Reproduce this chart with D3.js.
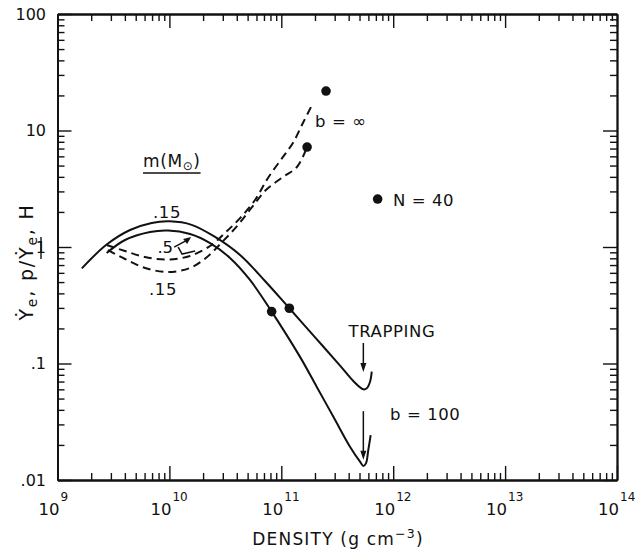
<!DOCTYPE html>
<html>
<head>
<meta charset="utf-8">
<script src="https://cdn.jsdelivr.net/npm/d3@7"></script>
<style>
  html, body { margin: 0; padding: 0; background: #fff; }
  svg { display: block; }
  text { font-family: "DejaVu Sans", "Liberation Sans", sans-serif; fill: #111; }
</style>
</head>
<body>
<svg id="chart" width="636" height="554"></svg>
<script>
// Axis ticks
const densityDecades = [1e9, 1e10, 1e11, 1e12, 1e13, 1e14];
const ratioDecades = [0.01, 0.1, 1, 10, 100];
const ratioLabels = [".01", ".1", "1", "10", "100"];

// Ratio of capture rates vs density: [density (g cm^-3), ratio]
// b = 100, m = .15 (solid)
const solid015 = [[1.65e9,0.656],[2.75e9,1.05],[4.45e9,1.40],[6.95e9,1.61],[1.01e10,1.66],[1.58e10,1.55],
  [2.56e10,1.22],[4.28e10,0.853],[7.15e10,0.511],[1.18e11,0.298],[2.07e11,0.162],[3.35e11,0.096],
  [4.40e11,0.0708],[5.41e11,0.060],[5.80e11,0.0612],[6.21e11,0.0698],[6.43e11,0.0851]];
// b = 100, m = .5 (solid)
const solid05 = [[2.75e9,0.887],[4.01e9,1.148],[6.71e9,1.346],[9.71e9,1.386],[1.53e10,1.294],[2.31e10,1.081],
  [3.48e10,0.805],[5.25e10,0.521],[8.2e10,0.279],[1.47e11,0.114],[2.07e11,0.0632],[2.92e11,0.0349],
  [4.11e11,0.0193],[5.05e11,0.01436],[5.41e11,0.0132],[5.71e11,0.0139],[5.99e11,0.0181],[6.29e11,0.0243]];
// b = infinity, m = .5 (dashed)
const dashed05 = [[2.75e9,1.04],[4.01e9,0.924],[6.05e9,0.820],[9.71e9,0.782],[1.53e10,0.838],[2.31e10,1.02],
  [3.14e10,1.32],[4.28e10,1.77],[5.82e10,2.53],[7.60e10,3.91],[1.035e11,5.93],[1.27e11,7.81],
  [1.56e11,11.6],[1.92e11,17.2]];
// b = infinity, m = .15 (dashed)
const dashed015 = [[2.82e9,0.942],[4.01e9,0.789],[6.05e9,0.661],[9.71e9,0.610],[1.53e10,0.661],[2.17e10,0.820],
  [2.95e10,1.10],[4.02e10,1.51],[5.47e10,2.20],[7.29e10,3.08],[1.035e11,3.99],[1.38e11,4.86],[1.70e11,7.21]];
// N = 40 results
const n40Points = [[2.51e11,21.8],[1.70e11,7.21],[8.2e10,0.279],[1.18e11,0.298]];
const n40Key = [7.26e11, 2.58];
// Trapping onset arrows: [density, from, to]
const trappingArrows = [[5.41e11,0.150,0.0845],[5.41e11,0.039,0.0149]];

const svg = d3.select("#chart");
const x = d3.scaleLog().domain([1e9, 1e14]).range([57.5, 617]);
const y = d3.scaleLog().domain([0.01, 100]).range([480, 14]);

const ink = "#111";
const minorOf = decades => decades.slice(0, -1).flatMap(d => d3.range(2, 10).map(k => k * d));
const xMinor = minorOf(densityDecades);
const yMinor = minorOf(ratioDecades);

function styleAxis(g) {
  g.selectAll("path.domain").attr("stroke", ink).attr("stroke-width", 1.8);
  g.selectAll(".tick line").attr("stroke", ink).attr("stroke-width", 1.4);
  g.selectAll(".tick text").remove();
}

const axes = [
  [d3.axisBottom(x), `translate(0,${y(0.01)})`, xMinor, densityDecades],
  [d3.axisTop(x), `translate(0,${y(100)})`, xMinor, densityDecades],
  [d3.axisLeft(y), `translate(${x(1e9)},0)`, yMinor, ratioDecades],
  [d3.axisRight(y), `translate(${x(1e14)},0)`, yMinor, ratioDecades]
];
axes.forEach(([ax, tr, minor, major]) => {
  svg.append("g").attr("transform", tr)
    .call(ax.tickValues(minor).tickSize(-7).tickSizeOuter(0).tickFormat(""))
    .call(styleAxis);
  svg.append("g").attr("transform", tr)
    .call(ax.tickValues(major).tickSize(-14).tickSizeOuter(0).tickFormat(""))
    .call(styleAxis);
});

// x tick labels: 10 with superscript exponent
densityDecades.forEach(d => {
  const px = x(d);
  svg.append("text").attr("x", px + 2).attr("y", 515).attr("text-anchor", "end")
    .attr("font-size", 16.5).text("10");
  svg.append("text").attr("x", px + 3).attr("y", 501).attr("text-anchor", "start")
    .attr("font-size", 12).text(Math.round(Math.log10(d)));
});

// y tick labels
ratioDecades.forEach((d, i) => {
  svg.append("text").attr("x", 46).attr("y", y(d)).attr("dy", "0.36em")
    .attr("text-anchor", "end").attr("font-size", 16).text(ratioLabels[i]);
});

// Axis titles
const xt = svg.append("text").attr("x", 338).attr("y", 545).attr("text-anchor", "middle")
  .attr("font-size", 17).attr("letter-spacing", 1.2);
xt.append("tspan").text("DENSITY (g cm");
xt.append("tspan").attr("dy", -7).attr("font-size", 12.5).text("−3");
xt.append("tspan").attr("dy", 7).text(")");

const yg = svg.append("g").attr("transform", "translate(33,262) rotate(-90)");
const yt = yg.append("text").attr("text-anchor", "middle").attr("font-size", 19).attr("letter-spacing", 1.8);
yt.append("tspan").text("Ẏ");
yt.append("tspan").attr("dy", 4).attr("font-size", 14).text("e");
yt.append("tspan").attr("dy", -4).text(", p/");
yt.append("tspan").text("Ẏ");
yt.append("tspan").attr("dy", 4).attr("font-size", 14).text("e");
yt.append("tspan").attr("dy", -4).text(", H");
{
  const node = yt.node();
  const s = node.getStartPositionOfChar(6), e = node.getEndPositionOfChar(7);
  yg.append("line").attr("x1", s.x).attr("x2", e.x - 1.8).attr("y1", 8).attr("y2", 8)
    .attr("stroke", ink).attr("stroke-width", 1.4);
}

// Curves
const line = d3.line().x(d => x(d[0])).y(d => y(d[1])).curve(d3.curveCatmullRom.alpha(0.5));
[[solid015, null], [solid05, null], [dashed05, "8,5"], [dashed015, "8,5"]].forEach(([data, dash]) => {
  svg.append("path").datum(data).attr("d", line)
    .attr("fill", "none").attr("stroke", ink).attr("stroke-width", 2)
    .attr("stroke-dasharray", dash);
});

// N = 40 points and key
svg.selectAll("circle.n40").data(n40Points.concat([n40Key])).join("circle")
  .attr("class", "n40").attr("cx", d => x(d[0])).attr("cy", d => y(d[1])).attr("r", 4.8).attr("fill", ink);

// Trapping arrows
trappingArrows.forEach(([d, from, to]) => {
  const px = x(d), y0 = y(from), y1 = y(to);
  svg.append("line").attr("x1", px).attr("x2", px).attr("y1", y0).attr("y2", y1 - 6)
    .attr("stroke", ink).attr("stroke-width", 1.5);
  svg.append("path").attr("d", `M${px - 3},${y1 - 9}L${px + 3},${y1 - 9}L${px},${y1}Z`).attr("fill", ink);
});

// Annotations
function label(xv, yv, str, anchor = "start", size = 16.5) {
  return svg.append("text").attr("x", x(xv)).attr("y", y(yv)).attr("text-anchor", anchor)
    .attr("font-size", size).attr("letter-spacing", 0.6).text(str);
}
label(9.52e9, 1.77, ".15", "middle");
label(8.77e9, 0.387, ".15", "middle");
label(2.0e11, 10.7, "b = ∞");
label(9.95e11, 2.25, "N = 40");
label(9.75e11, 0.169, "TRAPPING", "middle");
label(9.36e11, 0.0327, "b = 100");

// m(M_sun) heading with underline
{
  const t = svg.append("text").attr("x", x(5.81e9)).attr("y", y(4.86)).attr("font-size", 17).attr("letter-spacing", 0.6);
  t.append("tspan").text("m(M");
  t.append("tspan").attr("dy", 3).attr("font-size", 12).text("⊙");
  t.append("tspan").attr("dy", -3).text(")");
  const bb = t.node().getBBox();
  svg.append("line").attr("x1", bb.x).attr("x2", bb.x + bb.width)
    .attr("y1", y(4.86) + 6).attr("y2", y(4.86) + 6).attr("stroke", ink).attr("stroke-width", 1.5);
}

// ".5" label with leaders to its two curves
{
  const ax = x(1.08e10), ay = y(0.887);
  svg.append("text").attr("x", ax).attr("y", ay).attr("text-anchor", "end").attr("font-size", 16.5).text(".5");
  svg.append("path").attr("d", `M${ax + 1},${ay - 6}L${ax + 14},${ay - 13}`)
    .attr("stroke", ink).attr("stroke-width", 1.5).attr("fill", "none");
  svg.append("path").attr("d", `M${ax + 18},${ay - 16}L${ax + 10},${ay - 14}L${ax + 14},${ay - 9}Z`).attr("fill", ink);
  svg.append("path").attr("d", `M${ax + 5},${ay - 6}L${ax + 9},${ay + 1}L${ax + 22},${ay - 2}`)
    .attr("stroke", ink).attr("stroke-width", 1.5).attr("fill", "none");
}
</script>
</body>
</html>
